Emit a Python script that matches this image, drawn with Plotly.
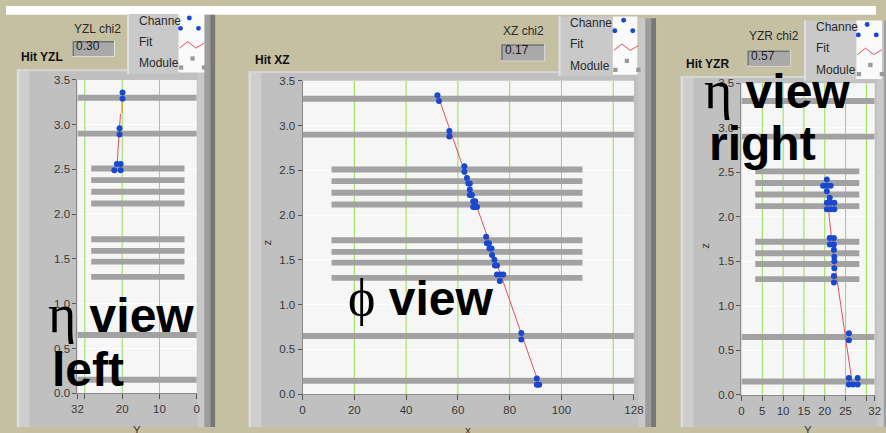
import plotly.graph_objects as go

FIG_W, FIG_H = 886, 433

# ---------------- data ----------------
# detector module planes (z position); full-width planes vs. short planes
MODULE_Z = [3.30, 2.90, 2.51, 2.38, 2.25, 2.12, 1.72, 1.59, 1.47, 1.30, 0.65, 0.15]
MODULE_IS_FULL = [1, 1, 0, 0, 0, 0, 0, 0, 0, 0, 1, 1]
XZ_SHORT_SPAN = [11.2, 108.1]
YZ_SHORT_SPAN = [3.3, 28.3]

# left eta view (Y vs z)
YZL_HIT_Y = [19.9, 19.9, 20.7, 20.7, 21.4, 20.4, 22.1, 20.4]
YZL_HIT_Z = [3.36, 3.29, 2.96, 2.89, 2.56, 2.56, 2.49, 2.49]
YZL_FIT_UPPER_Y = [20.0, 20.0]
YZL_FIT_UPPER_Z = [3.36, 3.13]
YZL_FIT_LOWER_Y = [20.45, 20.8, 21.1, 21.35]
YZL_FIT_LOWER_Z = [3.12, 2.95, 2.73, 2.53]

# phi view (x vs z)
XZ_HIT_X = [52.1, 52.7, 56.7, 56.7, 62.5, 62.5, 63.5, 64.0, 64.6, 64.6, 64.6, 65.4,
            65.9, 66.7, 65.9, 66.7, 67.4, 70.9, 71.2, 72.0, 72.2, 73.0, 73.2, 74.1,
            74.3, 75.1, 75.1, 76.3, 77.5, 76.2, 84.5, 84.5, 90.5, 90.5, 91.4]
XZ_HIT_Z = [3.34, 3.275, 2.94, 2.88, 2.547, 2.486, 2.416, 2.355, 2.355, 2.286, 2.225, 2.225,
            2.155, 2.155, 2.09, 2.09, 2.09, 1.758, 1.685, 1.685, 1.627, 1.627, 1.554, 1.503,
            1.438, 1.438, 1.337, 1.337, 1.337, 1.264, 0.685, 0.612, 0.177, 0.105, 0.105]
XZ_FIT_X = [52.0, 91.5]
XZ_FIT_Z = [3.36, 0.10]

# right eta view (Y vs z)
YZR_HIT_Y = [20.5, 19.6, 20.5, 21.4, 20.5, 21.2, 20.5, 21.4, 22.3, 20.5, 21.4, 22.3,
             21.2, 22.2, 21.2, 22.2, 22.2, 22.3, 22.3, 22.3, 22.2, 22.2,
             25.8, 25.8, 25.8, 27.9, 25.8, 26.8, 27.9]
YZR_HIT_Z = [2.418, 2.349, 2.349, 2.349, 2.287, 2.213, 2.159, 2.159, 2.159, 2.086, 2.086, 2.086,
             1.761, 1.761, 1.688, 1.688, 1.630, 1.55, 1.502, 1.422, 1.335, 1.261,
             0.693, 0.613, 0.189, 0.189, 0.117, 0.117, 0.117]
YZR_FIT_Y = [20.5, 21.06, 22.1, 26.6]
YZR_FIT_Z = [2.41, 2.0, 1.565, 0.13]

PANEL_TITLES = ["Hit YZL", "Hit XZ", "Hit YZR"]
CHI2_NAMES = ["YZL chi2", "XZ chi2", "YZR chi2"]
CHI2_VALUES = ["0.30", "0.17", "0.57"]
LEGEND_LABELS = ["Channe", "Fit", "Module"]
X_TITLES = ["Y", "x", "Y"]

Z_TICKS = [0, 0.5, 1.0, 1.5, 2.0, 2.5, 3.0, 3.5]
Z_TICK_TEXT = ["0.0", "0.5", "1.0", "1.5", "2.0", "2.5", "3.0", "3.5"]
YZL_TICKS = [32, 30, 20, 10, 0]
YZL_TICK_TEXT = ["32", "", "20", "10", "0"]
XZ_TICKS = [0, 20, 40, 60, 80, 100, 120, 128]
XZ_TICK_TEXT = ["0", "20", "40", "60", "80", "100", "", "128"]
YZR_TICKS = [0, 5, 10, 15, 20, 25, 30, 32]
YZR_TICK_TEXT = ["0", "5", "10", "15", "20", "25", "", "32"]
YZL_GRID = [30, 20, 10]
XZ_GRID = [20, 40, 60, 80, 100, 120]
YZR_GRID = [5, 10, 15, 20, 25, 30]

# ---------------- styling ----------------
KHAKI = "#c5c0a1"
FRAME = "#c0c0c0"
MODULE_COLOR = "#a2a2a2"
GRID_GREEN = "#8fe04c"
HIT_BLUE = "#1848d0"
FIT_RED = "#e2505e"
FONT = "Liberation Sans"
HALF_T = 0.033  # half thickness of a module plane in z
TXT_DY = -3.0   # baseline correction for small labels


def fx(x):
    return x / FIG_W


def fy(y):
    return 1 - y / FIG_H


shapes = []
annotations = []


def rect(x0, y0, x1, y1, fill):
    shapes.append(dict(type="rect", xref="paper", yref="paper",
                       x0=fx(x0), x1=fx(x1), y0=fy(y1), y1=fy(y0),
                       fillcolor=fill, line=dict(width=0), layer="below"))


def text(x, y, s, size=12, color="#262626", anchor="left", bold=False, angle=0, family=FONT):
    annotations.append(dict(xref="paper", yref="paper", x=fx(x), y=fy(y),
                            xanchor=anchor, yanchor="middle", showarrow=False,
                            text=f"<b>{s}</b>" if bold else s, textangle=angle,
                            font=dict(family=family, size=size, color=color)))


# panel geometry in pixels
panels = [
    dict(plot=(72.7, 194.3, 76.0, 398.3), frame=(11, 213, 65), title_xy=(13, 55),
         chi_label=(93.3, 26.7), chi_box=(67.7, 36.0, 111.0, 52.3),
         legend=(123.3, 175.7, 202.0, 8.3), strip_top=9),
    dict(plot=(302.0, 639.5, 77.0, 399.3), frame=(247, 662, 67), title_xy=(252, 58.3),
         chi_label=(527.5, 28.3), chi_box=(504.3, 39.3, 549.0, 56.7),
         legend=(562.7, 618.0, 643.0, 10.7), strip_top=12.7),
    dict(plot=(749.0, 884.7, 79.4, 400.0), frame=(687, 905, 72), title_xy=(690.7, 62.5),
         chi_label=(782.0, 34.3), chi_box=(755.0, 45.7, 799.0, 62.3),
         legend=(812.7, 866.0, 892.0, 15.0), strip_top=15),
]

# white strip along the top
rect(0, 0, FIG_W, 9, "#ffffff")

for i, p in enumerate(panels):
    x0, x1, top = p["frame"]
    # frame body with bevel
    rect(x0, top, x1, FIG_H, FRAME)
    rect(x0, top, x0 + 3, FIG_H, "#dcdcdc")
    rect(x0 + 3, top, x0 + 13, FIG_H, "#cecece")
    rect(x0, top, x1, top + 2, "#d6d6d6")
    st = p["strip_top"]
    rect(x1 - 18, st, x1 - 11, FIG_H, "#c9c9c9")
    rect(x1 - 11, st, x1 - 5, FIG_H, "#9d9d9d")
    rect(x1 - 5, st, x1, FIG_H, "#777777")

    # legend box
    lx0, sx0, sx1, lt = p["legend"]
    lb = top + 5
    rect(lx0, lt, sx0, lb, "#c9c9c9")
    rect(lx0, lt, lx0 + 2, lb, "#dfdfdf")
    rect(sx0, lt, sx1, lt + 60, "#fafafa")
    for dx, dy in [(11, 4), (2, 14.7), (20.3, 14.7)]:
        cx, cy = sx0 + dx, lt + dy
        shapes.append(dict(type="circle", xref="paper", yref="paper",
                           x0=fx(cx - 2.5), x1=fx(cx + 2.5), y0=fy(cy + 2.5), y1=fy(cy - 2.5),
                           fillcolor=HIT_BLUE, line=dict(width=0), layer="below"))
    zz = [(1, 35), (9.3, 28.4), (17.6, 35), (26, 30)]
    path = "M " + " L ".join(f"{fx(sx0 + a)},{fy(lt + b)}" for a, b in zz)
    shapes.append(dict(type="path", xref="paper", yref="paper", path=path,
                       line=dict(color=FIT_RED, width=1), layer="below"))
    for dx, dy in [(14.3, 45.7), (2.6, 55), (26, 55)]:
        cx, cy = sx0 + dx, lt + dy
        rect(cx - 2.2, cy - 2.2, cx + 2.2, cy + 2.2, "#9a9a9a")
    for k, lab in enumerate(LEGEND_LABELS):
        text(lx0 + 10, lt + [10, 31.5, 53.5][k] + TXT_DY, lab, size=12, color="#2a2a2a")

    # chi2 indicator
    bx0, by0, bx1, by1 = p["chi_box"]
    rect(bx0, by0, bx1, by1, "#e6e6e6")
    rect(bx0, by0, bx1 - 1, by1 - 1, "#6f6f6f")
    rect(bx0 + 1.5, by0 + 1.5, bx1 - 1, by1 - 1, "#a9a9a9")
    text(bx0 + 2.0, (by0 + by1) / 2 + 0.5 + TXT_DY, CHI2_VALUES[i], size=12, color="#1c1c1c")
    cx, cy = p["chi_label"]
    text(cx, cy + TXT_DY, CHI2_NAMES[i], size=12, color="#2a2a2a", anchor="center")

    # panel title
    tx, ty = p["title_xy"]
    text(tx, ty + TXT_DY, PANEL_TITLES[i], size=12, color="#111111", bold=True)

    # plot area background
    px0, px1, py0, py1 = p["plot"]
    rect(px0, py0, px1, py1, "#f6f6f6")

fig = go.Figure()

axis_specs = [
    ("x", "y", [32, 0], YZL_TICKS, YZL_TICK_TEXT, YZL_GRID, YZ_SHORT_SPAN),
    ("x2", "y2", [0, 128], XZ_TICKS, XZ_TICK_TEXT, XZ_GRID, XZ_SHORT_SPAN),
    ("x3", "y3", [0, 32], YZR_TICKS, YZR_TICK_TEXT, YZR_GRID, YZ_SHORT_SPAN),
]

layout_axes = {}
tickfont = dict(family=FONT, size=11.5, color="#383838")
for i, (xa, ya, xr, tv, tt, grid, short) in enumerate(axis_specs):
    px0, px1, py0, py1 = panels[i]["plot"]
    xkey = "xaxis" + ("" if i == 0 else str(i + 1))
    ykey = "yaxis" + ("" if i == 0 else str(i + 1))
    layout_axes[xkey] = dict(domain=[fx(px0), fx(px1)], range=xr, anchor=ya,
                             tickmode="array", tickvals=tv, ticktext=tt,
                             ticks="outside", ticklen=5, tickcolor="#555555",
                             showgrid=False, zeroline=False, showline=True,
                             linecolor="#8a8a8a", linewidth=1, tickfont=tickfont)
    layout_axes[ykey] = dict(domain=[fy(py1), fy(py0)], range=[0, 3.5], anchor=xa,
                             tickmode="array", tickvals=Z_TICKS, ticktext=Z_TICK_TEXT,
                             ticks="outside", ticklen=4, tickcolor="#555555",
                             showgrid=False, zeroline=False, showline=True,
                             linecolor="#8a8a8a", linewidth=1, tickfont=tickfont)
    lo, hi = min(xr), max(xr)
    # faint horizontal guides
    for zt in Z_TICKS[1:-1]:
        shapes.append(dict(type="line", xref=xa, yref=ya, x0=lo, x1=hi, y0=zt, y1=zt,
                           line=dict(color="#ffffff", width=1), layer="below"))
    # green vertical grid
    for g in grid:
        shapes.append(dict(type="line", xref=xa, yref=ya, x0=g, x1=g, y0=0, y1=3.5,
                           line=dict(color=GRID_GREEN, width=1), layer="below"))
    # module planes
    for z, full in zip(MODULE_Z, MODULE_IS_FULL):
        a, b = (lo, hi) if full else (short[0], short[1])
        shapes.append(dict(type="rect", xref=xa, yref=ya, x0=a, x1=b,
                           y0=z - HALF_T, y1=z + HALF_T, fillcolor=MODULE_COLOR,
                           line=dict(width=0), layer="below"))

# fit lines
fig.add_trace(go.Scatter(x=YZL_FIT_UPPER_Y, y=YZL_FIT_UPPER_Z, mode="lines",
                         line=dict(color="#c9a227", width=1.3), xaxis="x", yaxis="y"))
fig.add_trace(go.Scatter(x=YZL_FIT_LOWER_Y, y=YZL_FIT_LOWER_Z, mode="lines",
                         line=dict(color=FIT_RED, width=1), xaxis="x", yaxis="y"))
fig.add_trace(go.Scatter(x=XZ_FIT_X, y=XZ_FIT_Z, mode="lines",
                         line=dict(color=FIT_RED, width=1), xaxis="x2", yaxis="y2"))
fig.add_trace(go.Scatter(x=YZR_FIT_Y, y=YZR_FIT_Z, mode="lines",
                         line=dict(color=FIT_RED, width=1), xaxis="x3", yaxis="y3"))

# hits
marker = dict(color=HIT_BLUE, size=6, line=dict(width=0))
fig.add_trace(go.Scatter(x=YZL_HIT_Y, y=YZL_HIT_Z, mode="markers", marker=marker,
                         xaxis="x", yaxis="y"))
fig.add_trace(go.Scatter(x=XZ_HIT_X, y=XZ_HIT_Z, mode="markers", marker=marker,
                         xaxis="x2", yaxis="y2"))
fig.add_trace(go.Scatter(x=YZR_HIT_Y, y=YZR_HIT_Z, mode="markers", marker=marker,
                         xaxis="x3", yaxis="y3"))

# axis titles
text(266, 243, "z", size=11.5, color="#383838", anchor="center", angle=-90)
text(711.7, 246.7, "z", size=11.5, color="#383838", anchor="center", angle=-90)
for i, t in enumerate(X_TITLES):
    px0, px1, _, _ = panels[i]["plot"]
    text((px0 + px1) / 2, 436, t, size=11.5, color="#383838", anchor="center")

# overlaid view labels
ETA = "<span style='font-family:Liberation Serif;font-weight:normal;font-size:54px'>\u03b7</span>"
PHI = "<span style='font-family:Liberation Serif;font-weight:normal;font-size:52px'>\u03d5</span>"
text(41, 316.4, ETA + " <b>view</b>", size=48, color="#000000")
text(45, 373.4, "<b>left</b>", size=48, color="#000000")
text(346, 299.4, PHI + " <b>view</b>", size=48, color="#000000")
text(709, 86.4, ETA + " <b>view</b>", size=48, color="#000000")
text(714, 141.4, "<b>right</b>", size=48, color="#000000")

fig.update_layout(width=FIG_W, height=FIG_H, margin=dict(l=0, r=0, t=0, b=0),
                  paper_bgcolor=KHAKI, plot_bgcolor="rgba(0,0,0,0)",
                  showlegend=False, shapes=shapes, annotations=annotations,
                  **layout_axes)

fig.write_html("out.html")
